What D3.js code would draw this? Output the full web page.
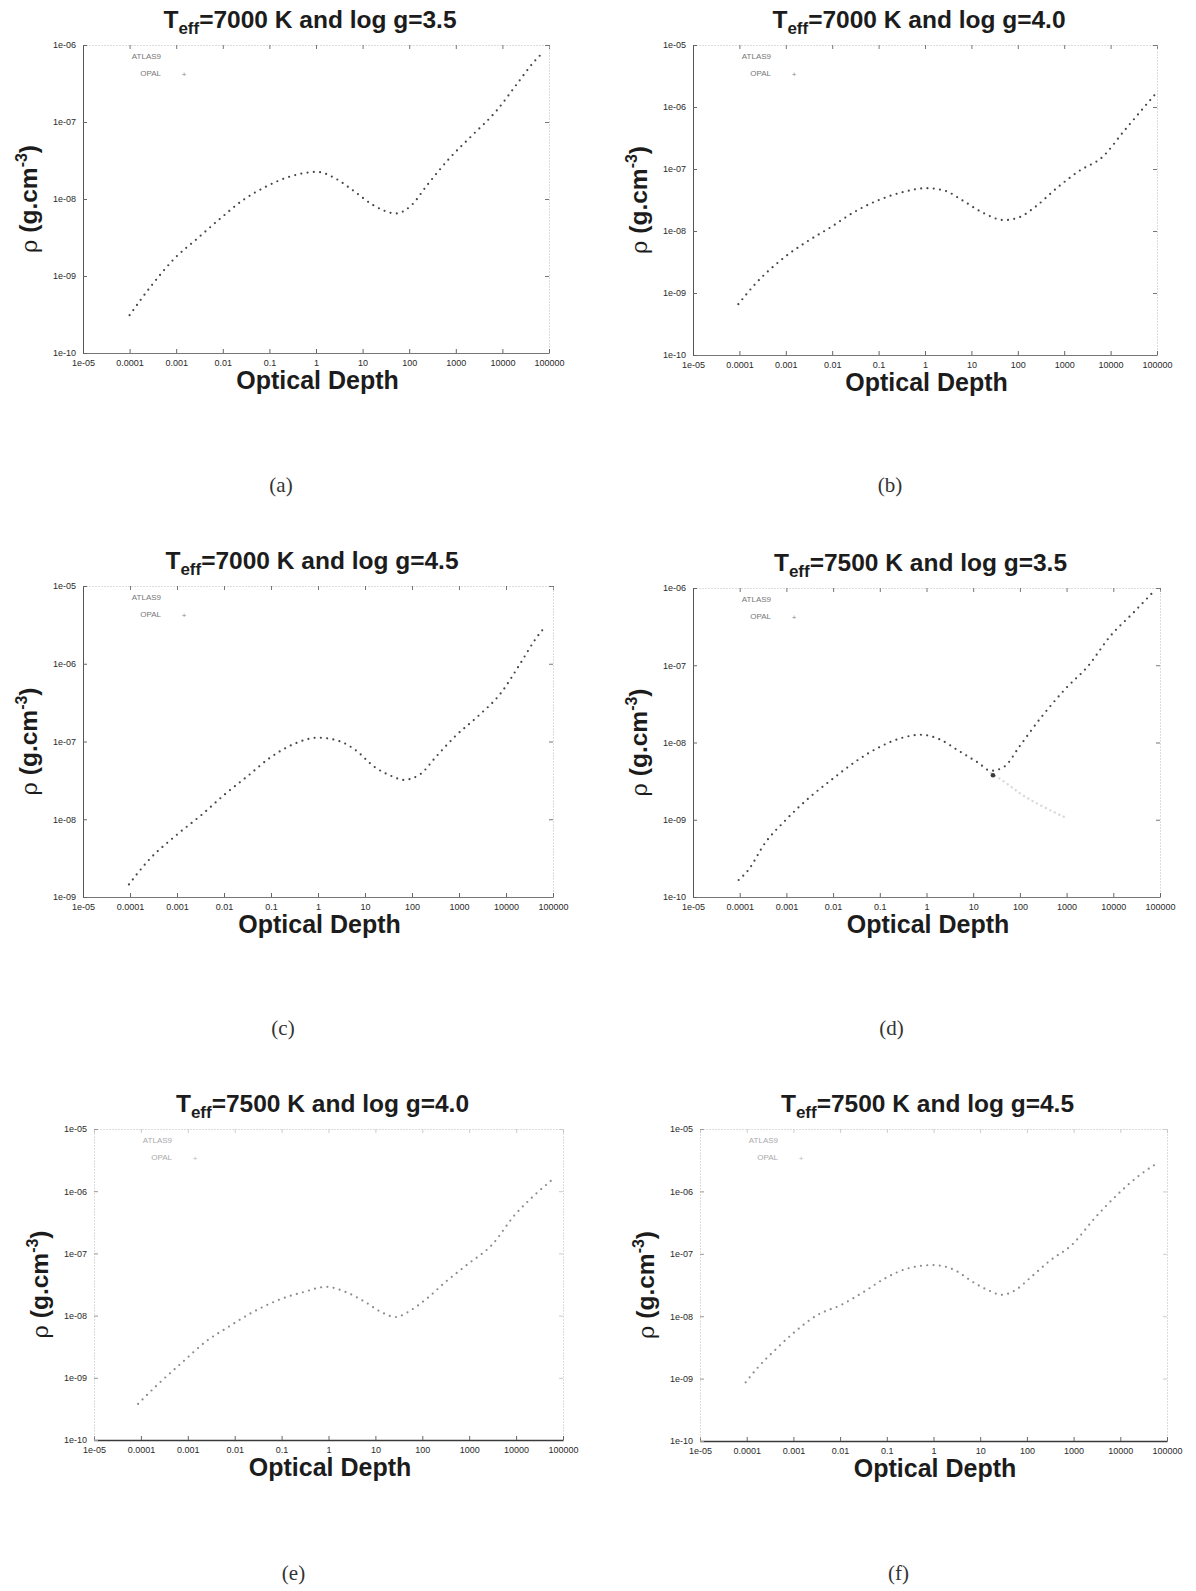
<!DOCTYPE html>
<html>
<head>
<meta charset="utf-8">
<script src="https://cdn.jsdelivr.net/npm/d3@7"></script>
<style>
body { margin: 0; background: #fff; }
text { font-family: "Liberation Sans", Arial, sans-serif; }
</style>
</head>
<body>
<div id="chart"></div>
<script>

// tick labels (gnuplot style)
var xTickValues = [1e-5, 1e-4, 1e-3, 1e-2, 1e-1, 1, 10, 100, 1000, 10000, 100000];
var xTickLabels = ["1e-05", "0.0001", "0.001", "0.01", "0.1", "1", "10", "100", "1000", "10000", "100000"];
var yTickValues = [1e-10, 1e-9, 1e-8, 1e-7, 1e-6, 1e-5];
var yTickLabels = ["1e-10", "1e-09", "1e-08", "1e-07", "1e-06", "1e-05"];

var panelLetters = ["(a)", "(b)", "(c)", "(d)", "(e)", "(f)"];
var panelTeff = ["7000", "7000", "7000", "7500", "7500", "7500"];
var panelLogg = ["3.5", "4.0", "4.5", "3.5", "4.0", "4.5"];
var panelYmin = [1e-10, 1e-10, 1e-9, 1e-10, 1e-10, 1e-10];
var panelYmax = [1e-6, 1e-5, 1e-5, 1e-6, 1e-5, 1e-5];
var legendNames = ["ATLAS9", "OPAL"];

// density vs optical depth
var tauA = [1.0e-4, 3.0e-4, 9.3e-4, 2.9e-3, 8.9e-3, 2.8e-2, 8.5e-2, 0.27, 1.05, 2.6, 6.6, 17, 52, 112, 240, 740, 2300, 7100, 22000, 47000, 76000];
var rhoA = [3.1e-10, 7.6e-10, 1.7e-9, 3.1e-9, 5.6e-9, 9.8e-9, 1.45e-8, 1.95e-8, 2.25e-8, 1.85e-8, 1.26e-8, 8.3e-9, 6.5e-9, 8.3e-9, 1.5e-8, 3.4e-8, 6.8e-8, 1.35e-7, 3.3e-7, 6.0e-7, 8.1e-7];

var tauB = [9.5e-5, 2.2e-4, 9.5e-4, 3.0e-3, 9.3e-3, 2.9e-2, 9.5e-2, 0.32, 1.05, 2.6, 6.5, 17, 51, 107, 230, 710, 2100, 6600, 20000, 52000, 91000];
var rhoB = [6.6e-10, 1.4e-9, 3.8e-9, 6.9e-9, 1.15e-8, 2.0e-8, 3.1e-8, 4.2e-8, 4.9e-8, 4.5e-8, 3.1e-8, 2.0e-8, 1.5e-8, 1.66e-8, 2.4e-8, 5.0e-8, 9.3e-8, 1.55e-7, 4.2e-7, 9.8e-7, 1.6e-6];

var tauC = [9.5e-5, 2.4e-4, 1.05e-3, 3.4e-3, 1.05e-2, 3.2e-2, 0.1, 0.31, 1.0, 3.0, 6.2, 16, 41, 65, 150, 320, 810, 2500, 7800, 20000, 43000, 62000];
var rhoC = [1.45e-9, 2.9e-9, 6.5e-9, 1.15e-8, 2.1e-8, 3.6e-8, 6.3e-8, 9.3e-8, 1.12e-7, 1.0e-7, 7.8e-8, 4.7e-8, 3.5e-8, 3.2e-8, 3.8e-8, 6.3e-8, 1.15e-7, 2.1e-7, 4.2e-7, 1.0e-6, 2.1e-6, 2.8e-6];

var tauD = [9.5e-5, 1.5e-4, 3.5e-4, 9.8e-4, 3.3e-3, 9.3e-3, 3.2e-2, 0.105, 0.30, 0.76, 1.9, 4.9, 12.6, 24, 47, 98, 300, 930, 2900, 8700, 27000, 69000];
var rhoD = [1.66e-10, 2.2e-10, 5.0e-10, 1.0e-9, 2.0e-9, 3.3e-9, 5.8e-9, 8.9e-9, 1.15e-8, 1.26e-8, 1.1e-8, 7.8e-9, 5.5e-9, 4.3e-9, 4.9e-9, 8.9e-9, 2.2e-8, 4.9e-8, 9.8e-8, 2.4e-7, 4.8e-7, 8.7e-7];
// faint OPAL branch that splits off in panel (d)
var tauDopal = [24, 50, 100, 300, 1000];
var rhoDopal = [4.0e-9, 3.0e-9, 2.2e-9, 1.5e-9, 1.05e-9];

var tauE = [8.7e-5, 2.2e-4, 7.8e-4, 2.4e-3, 7.4e-3, 2.5e-2, 8.9e-2, 0.30, 0.91, 2.3, 6.0, 13, 27, 58, 123, 316, 980, 3000, 9500, 25000, 63000];
var rhoE = [3.8e-10, 7.6e-10, 1.8e-9, 3.8e-9, 6.6e-9, 1.15e-8, 1.8e-8, 2.4e-8, 2.9e-8, 2.4e-8, 1.66e-8, 1.15e-8, 9.5e-9, 1.23e-8, 1.86e-8, 3.5e-8, 6.9e-8, 1.35e-7, 4.2e-7, 8.7e-7, 1.6e-6];

var tauF = [9.5e-5, 1.66e-4, 4.3e-4, 1.07e-3, 3.3e-3, 1.02e-2, 3.2e-2, 9.5e-2, 0.30, 1.0, 2.8, 7.1, 15, 29, 56, 117, 300, 930, 2900, 8700, 27000, 58000];
var rhoF = [8.7e-10, 1.45e-9, 3.0e-9, 5.6e-9, 1.05e-8, 1.5e-8, 2.45e-8, 4.1e-8, 5.9e-8, 6.6e-8, 5.5e-8, 3.5e-8, 2.6e-8, 2.2e-8, 2.6e-8, 4.1e-8, 7.6e-8, 1.4e-7, 3.8e-7, 8.9e-7, 1.86e-6, 2.75e-6];

var curvesTau = [tauA, tauB, tauC, tauD, tauE, tauF];
var curvesRho = [rhoA, rhoB, rhoC, rhoD, rhoE, rhoF];

// plot boxes on the page
var boxes = [
    {left: 83, right: 549, top: 45, bottom: 353, cap: 492},
    {left: 693, right: 1157, top: 45, bottom: 355, cap: 492},
    {left: 83, right: 553, top: 586, bottom: 897, cap: 1035},
    {left: 693, right: 1160, top: 588, bottom: 897, cap: 1035},
    {left: 94, right: 563, top: 1129, bottom: 1440, cap: 1580},
    {left: 700, right: 1167, top: 1129, bottom: 1441, cap: 1580}
];

var svg = d3.select("#chart").append("svg")
    .attr("width", 1196)
    .attr("height", 1591)
    .style("background", "#fff");

boxes.forEach(function(b, i) {
    var faded = i >= 4;
    var dotColor = faded ? "#8c8c8c" : "#474747";
    var mid = (b.left + b.right) / 2;

    var x = d3.scaleLog().domain([1e-5, 1e5]).range([b.left, b.right]);
    var y = d3.scaleLog().domain([panelYmin[i], panelYmax[i]]).range([b.bottom, b.top]);
    var yTicks = yTickValues.filter(function(v) { return v >= panelYmin[i] * 0.99 && v <= panelYmax[i] * 1.01; });

    var g = svg.append("g").attr("class", "panel");

    // title
    var title = g.append("text")
        .attr("x", mid - 6)
        .attr("y", b.top - 17)
        .attr("text-anchor", "middle")
        .attr("fill", "#1c1c1c")
        .style("font-weight", "bold")
        .style("font-size", "24.5px");
    title.append("tspan").text("T");
    title.append("tspan").attr("dy", 6).style("font-size", "17px").text("eff");
    title.append("tspan").attr("dy", -6).text("=" + panelTeff[i] + " K and log g=" + panelLogg[i]);

    // mirror ticks top + right, faint dotted frame
    g.append("g")
        .attr("transform", "translate(0," + b.top + ")")
        .call(d3.axisTop(x).tickValues(xTickValues).tickSizeInner(-4).tickSizeOuter(0).tickFormat(""))
        .call(function(a) {
            a.select(".domain").attr("stroke", "#bbb").attr("stroke-dasharray", "1,2");
            a.selectAll(".tick line").attr("stroke", faded ? "#ccc" : "#777");
        });
    g.append("g")
        .attr("transform", "translate(" + b.right + ",0)")
        .call(d3.axisRight(y).tickValues(yTicks).tickSizeInner(-4).tickSizeOuter(0).tickFormat(""))
        .call(function(a) {
            a.select(".domain").attr("stroke", "#bbb").attr("stroke-dasharray", "1,2");
            a.selectAll(".tick line").attr("stroke", faded ? "#ccc" : "#777");
        });

    // bottom axis
    g.append("g")
        .attr("transform", "translate(0," + b.bottom + ")")
        .call(d3.axisBottom(x).tickValues(xTickValues).tickSizeInner(-4).tickSizeOuter(0).tickPadding(7)
            .tickFormat(function(d, k) { return xTickLabels[k]; }))
        .call(function(a) {
            a.select(".domain").attr("stroke", faded ? "#3a3a3a" : "#777").attr("stroke-width", faded ? 1.6 : 1);
            a.selectAll(".tick line").attr("stroke", "#666");
            a.selectAll(".tick text").attr("fill", "#2a2a2a").style("font-size", "9px")
                .style("font-family", "\"Liberation Sans\", Arial, sans-serif");
        });

    // left axis
    g.append("g")
        .attr("transform", "translate(" + b.left + ",0)")
        .call(d3.axisLeft(y).tickValues(yTicks).tickSizeInner(-4).tickSizeOuter(0).tickPadding(7)
            .tickFormat(function(d) { return yTickLabels[yTickValues.indexOf(d)]; }))
        .call(function(a) {
            a.select(".domain").attr("stroke", faded ? "#bbb" : "#555")
                .attr("stroke-dasharray", faded ? "1,2" : null);
            a.selectAll(".tick line").attr("stroke", faded ? "#999" : "#666");
            a.selectAll(".tick text").attr("fill", "#2a2a2a").style("font-size", "9px")
                .style("font-family", "\"Liberation Sans\", Arial, sans-serif");
        });

    // x label
    g.append("text")
        .attr("x", mid + 1.5)
        .attr("y", b.bottom + 36)
        .attr("text-anchor", "middle")
        .attr("fill", "#1c1c1c")
        .style("font-weight", "bold")
        .style("font-size", "25px")
        .text("Optical Depth");

    // y label
    var yl = g.append("text")
        .attr("transform", "translate(" + (b.left - 46) + "," + ((b.top + b.bottom) / 2) + ")rotate(-90)")
        .attr("text-anchor", "middle")
        .attr("fill", "#1c1c1c")
        .style("font-size", "24.5px");
    yl.append("tspan").style("font-family", "\"DejaVu Serif\", serif").style("font-size", "23px").text("\u03c1");
    yl.append("tspan").style("font-weight", "bold").text(" (g.cm");
    yl.append("tspan").attr("dy", -10).style("font-weight", "bold").style("font-size", "16px").text("-3");
    yl.append("tspan").attr("dy", 10).style("font-weight", "bold").text(")");

    // legend
    legendNames.forEach(function(name, k) {
        g.append("text")
            .attr("x", b.left + 78)
            .attr("y", b.top + 14 + k * 17)
            .attr("text-anchor", "end")
            .attr("fill", faded ? "#aaa" : "#777")
            .style("font-size", "8px")
            .text(name);
    });
    g.append("text")
        .attr("x", b.left + 101)
        .attr("y", b.top + 32)
        .attr("text-anchor", "middle")
        .attr("fill", faded ? "#bbb" : "#888")
        .style("font-size", "8px")
        .text("+");

    // curve, drawn as gnuplot-like dots
    var pts = curvesTau[i].map(function(t, k) { return [t, curvesRho[i][k]]; });
    var line = d3.line()
        .x(function(d) { return x(d[0]); })
        .y(function(d) { return y(d[1]); })
        .curve(d3.curveMonotoneX);

    if (i === 3) {
        var opal = tauDopal.map(function(t, k) { return [t, rhoDopal[k]]; });
        g.append("path")
            .attr("d", line(opal))
            .attr("fill", "none")
            .attr("stroke", "#d8d8d8")
            .attr("stroke-width", 2.4)
            .attr("stroke-linecap", "round")
            .attr("stroke-dasharray", "0 5");
        g.append("circle")
            .attr("cx", x(tauDopal[0]) + 2)
            .attr("cy", y(rhoDopal[0]) + 2)
            .attr("r", 2.3)
            .attr("fill", "#3a3a3a");
    }

    g.append("path")
        .attr("d", line(pts))
        .attr("fill", "none")
        .attr("stroke", dotColor)
        .attr("stroke-width", 2.2)
        .attr("stroke-linecap", "round")
        .attr("stroke-dasharray", "0 6.3");

    // sub-caption
    g.append("text")
        .attr("x", mid - 35)
        .attr("y", b.cap)
        .attr("text-anchor", "middle")
        .attr("fill", "#333")
        .style("font-family", "\"Liberation Serif\", \"DejaVu Serif\", serif")
        .style("font-size", "21px")
        .text(panelLetters[i]);
});

</script>
</body>
</html>
